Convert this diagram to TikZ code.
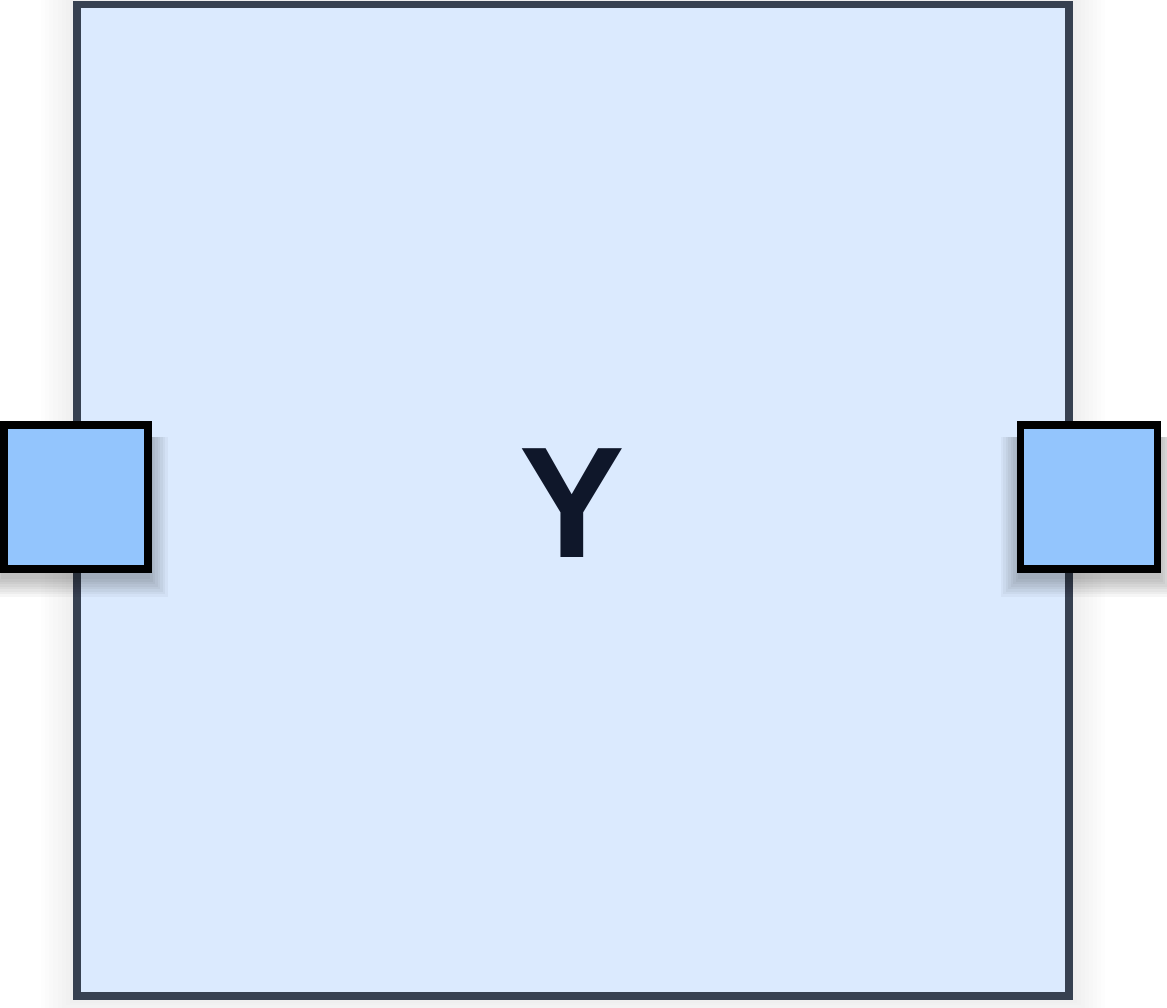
\documentclass[tikz,border=0pt]{standalone}
\usepackage{fontspec}
\setmainfont{Liberation Sans}
\usetikzlibrary{positioning}
\definecolor{boxfill}{HTML}{DBEAFE}
\definecolor{boxline}{HTML}{374151}
\definecolor{portfill}{HTML}{93C5FD}
\definecolor{labelink}{HTML}{0F172A}
\tikzset{
  mainbox/.style={draw=boxline, line width=4pt, fill=boxfill,
    minimum width=19.84cm, minimum height=19.82cm, inner sep=0pt},
  portbox/.style={draw=black, line width=4.5pt, fill=portfill,
    minimum height=2.88cm, inner sep=0pt},
}
\begin{document}
\begin{tikzpicture}
  \useasboundingbox (0,0) rectangle (23.34,20.16);
  % faint halo round the block
  \foreach \i in {1,...,8}
    \fill[black, opacity=0.008] (1.47-\i*0.08, 0.15-\i*0.05) rectangle (21.45+\i*0.08, 20.13+\i*0.02);

  % the block
  \node[mainbox] (box) at (11.46,10.15) {};

  % port shadows
  \foreach \i in {1,...,8} {
    \fill[black, opacity=0.035] ([shift={(0.05-1.44-\i*0.05, 0.07-1.6-\i*0.05)}]box.west) rectangle ([shift={(0.05+1.44+\i*0.05, 0.07+1.2)}]box.west);
    \fill[black, opacity=0.035] ([shift={(0.33-1.37-\i*0.05, 0.07-1.6-\i*0.05)}]box.east) rectangle ([shift={(0.33+1.37+\i*0.05, 0.07+1.2)}]box.east);
  }

  % ports
  \node[portbox, minimum width=2.88cm] (inport) at ([shift={(0.05cm,0.07cm)}]box.west) {};
  \node[portbox, minimum width=2.74cm] (outport) at ([shift={(0.33cm,0.07cm)}]box.east) {};

  % label
  \node[text=labelink, font=\bfseries\fontsize{90}{90}\selectfont] (ylabel) at ([shift={(-0.02cm,-0.06cm)}]box.center) {Y};
\end{tikzpicture}
\end{document}
